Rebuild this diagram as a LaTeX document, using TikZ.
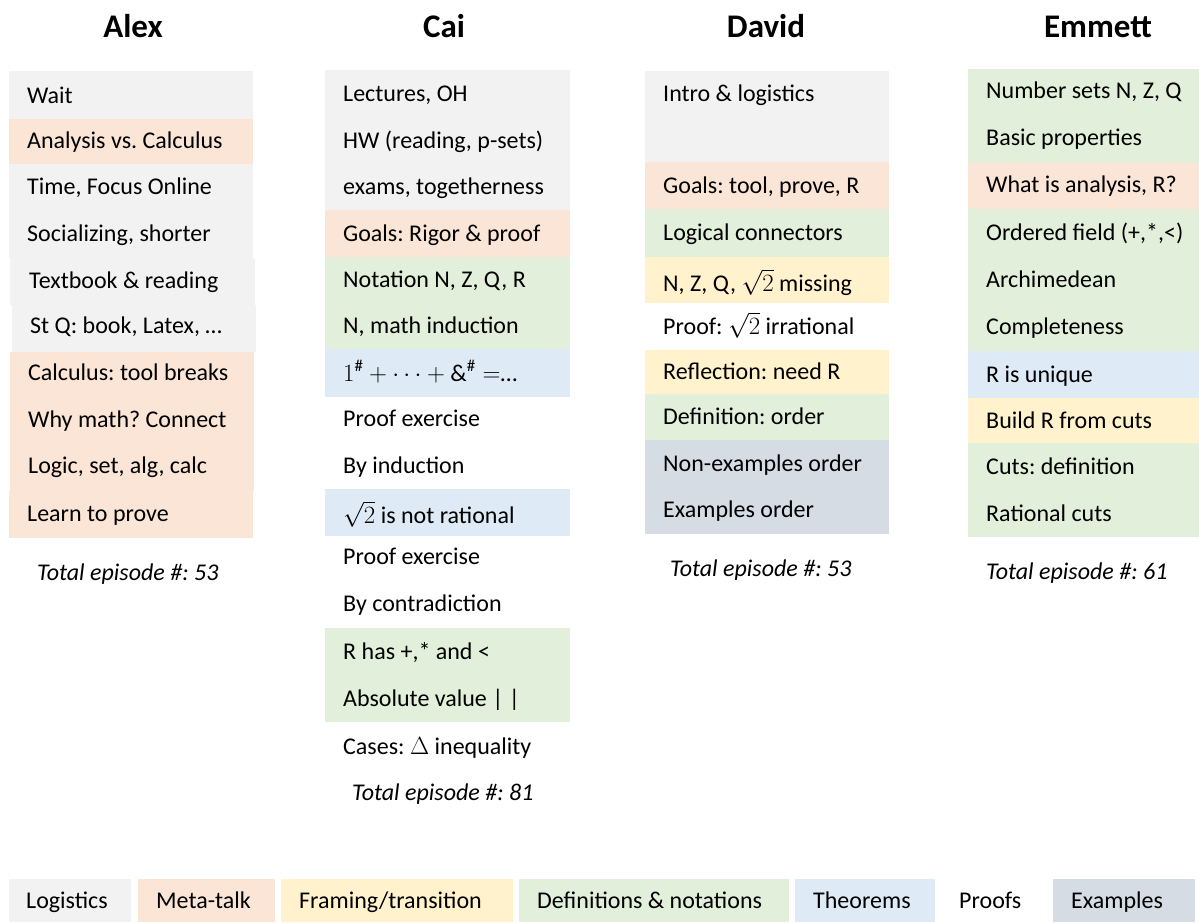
\documentclass[tikz,border=0pt]{standalone}
\usepackage{fontspec}
\setmainfont{Carlito}
\frenchspacing
\begin{document}
\frenchspacing
\definecolor{logi}{HTML}{F2F2F2}
\definecolor{meta}{HTML}{FBE5D6}
\definecolor{fram}{HTML}{FFF2CC}
\definecolor{defn}{HTML}{E2EFDA}
\definecolor{theo}{HTML}{DEEBF7}
\definecolor{exmp}{HTML}{D6DCE4}
\newcommand{\rtwo}{\smash{$\sqrt{2}$}}
\begin{tikzpicture}[x=1pt,y=-1pt,
  row/.style={anchor=base west,inner sep=0pt,font=\fontsize{24}{28}\selectfont},
  total/.style={anchor=base west,inner sep=0pt,font=\fontsize{24}{28}\selectfont\itshape},
  head/.style={anchor=base,inner sep=0pt,font=\fontsize{33}{38}\selectfont\bfseries},
  key/.style={anchor=base west,inner sep=0pt,font=\fontsize{24}{28}\selectfont}]
\useasboundingbox (0,0) rectangle (1199,922);

% column headings
\node[head] (hA) at (133,37) {Alex};
\node[head] (hC) at (444,37) {Cai};
\node[head] (hD) at (766,37) {David};
\node[head] (hE) at (1098,37) {Emmett};

% ---- Alex ----
\fill[logi] (9,71) rectangle (253,119);
\fill[meta] (9,119) rectangle (253,164);
\fill[logi] (9,164) rectangle (253,258);
\fill[logi] (10,258) rectangle (255,305);
\fill[logi] (12,305) rectangle (256,352);
\fill[meta] (10,352) rectangle (254,491);
\fill[meta] (9,491) rectangle (253,538);
\node[row] (a1) at (27,103.5) {Wait};
\node[row] (a2) at (27,148.5) {Analysis vs. Calculus};
\node[row] (a3) at (27,194.5) {Time, Focus Online};
\node[row] (a4) at (27,241.5) {Socializing, shorter};
\node[row] (a5) at (29,288.5) {Textbook \& reading};
\node[row] (a6) at (30,333.5) {St Q: book, Latex, …};
\node[row] (a7) at (28,380.5) {Calculus: tool breaks};
\node[row] (a8) at (28,427.5) {Why math? Connect};
\node[row] (a9) at (28,473.5) {Logic, set, alg, calc};
\node[row] (a10) at (27,521.5) {Learn to prove};
\node[total] (aT) at (37,580.5) {Total episode \#: 53};

% ---- Cai ----
\fill[logi] (325,70) rectangle (570,210);
\fill[meta] (325,210) rectangle (570,257);
\fill[defn] (325,257) rectangle (570,349);
\fill[theo] (325,349) rectangle (570,397);
\fill[theo] (325,489) rectangle (570,536);
\fill[defn] (325,628) rectangle (570,722);
\node[row] (c1) at (343,101.5) {Lectures, OH};
\node[row] (c2) at (343,148.5) {HW (reading, p-sets)};
\node[row] (c3) at (343,194.5) {exams, togetherness};
\node[row] (c4) at (343,241.5) {Goals: Rigor \& proof};
\node[row] (c5) at (343,287.5) {Notation N, Z, Q, R};
\node[row] (c6) at (343,333.5) {N, math induction};
\node[row] (c7) at (343,381) {$1^{\#}+\cdots+\&^{\#}=$…};
\node[row] (c8) at (343,426.5) {Proof exercise};
\node[row] (c9) at (343,473.5) {By induction};
\node[row] (c10) at (343,523.5) {\rtwo{} is not rational};
\node[row] (c11) at (343,564.5) {Proof exercise};
\node[row] (c12) at (343,611.5) {By contradiction};
\node[row] (c13) at (343,659.5) {R has +,* and <};
\node[row] (c14) at (343,706.5) {Absolute value | |};
\node[row] (c15) at (343,754.5) {Cases: $\Delta$ inequality};
\node[total] (cT) at (352,800.5) {Total episode \#: 81};

% ---- David ----
\fill[logi] (645,71) rectangle (889,162);
\fill[meta] (645,162) rectangle (889,209);
\fill[defn] (645,209) rectangle (889,257);
\fill[fram] (645,257) rectangle (889,303);
\fill[fram] (645,350) rectangle (889,394);
\fill[defn] (645,394) rectangle (889,440);
\fill[exmp] (645,440) rectangle (889,534);
\node[row] (d1) at (663,101.5) {Intro \& logistics};
\node[row] (d2) at (663,193.5) {Goals: tool, prove, R};
\node[row] (d3) at (663,240.5) {Logical connectors};
\node[row] (d4) at (663,291.5) {N, Z, Q, \rtwo{} missing};
\node[row] (d5) at (663,334.5) {Proof: \rtwo{} irrational};
\node[row] (d6) at (663,379.5) {Reflection: need R};
\node[row] (d7) at (663,424.5) {Definition: order};
\node[row] (d8) at (663,471.5) {Non-examples order};
\node[row] (d9) at (663,517.5) {Examples order};
\node[total] (dT) at (670,576.5) {Total episode \#: 53};

% ---- Emmett ----
\fill[defn] (968,69) rectangle (1199,163);
\fill[meta] (968,163) rectangle (1199,209);
\fill[defn] (968,209) rectangle (1199,351);
\fill[theo] (968,351) rectangle (1199,398);
\fill[fram] (968,398) rectangle (1199,443);
\fill[defn] (968,443) rectangle (1199,537);
\node[row] (e1) at (986,98.5) {Number sets N, Z, Q};
\node[row] (e2) at (986,145.5) {Basic properties};
\node[row] (e3) at (986,192.5) {What is analysis, R?};
\node[row] (e4) at (986,240.5) {Ordered field (+,*,<)};
\node[row] (e5) at (986,287.5) {Archimedean};
\node[row] (e6) at (986,334.5) {Completeness};
\node[row] (e7) at (986,382.5) {R is unique};
\node[row] (e8) at (986,428.5) {Build R from cuts};
\node[row] (e9) at (986,474.5) {Cuts: definition};
\node[row] (e10) at (986,521.5) {Rational cuts};
\node[total] (eT) at (986,579.5) {Total episode \#: 61};

% ---- legend ----
\fill[logi] (9,879) rectangle (131,922);
\fill[meta] (138,879) rectangle (275,922);
\fill[fram] (281,879) rectangle (513,922);
\fill[defn] (519,879) rectangle (789,922);
\fill[theo] (795,879) rectangle (935,922);
\fill[exmp] (1053,879) rectangle (1195,922);
\node[key] (k1) at (26,908.5) {Logistics};
\node[key] (k2) at (156,908.5) {Meta-talk};
\node[key] (k3) at (299,908.5) {Framing/transition};
\node[key] (k4) at (537,908.5) {Definitions \& notations};
\node[key] (k5) at (813,908.5) {Theorems};
\node[key] (k6) at (959,908.5) {Proofs};
\node[key] (k7) at (1071,908.5) {Examples};
\end{tikzpicture}
\end{document}
